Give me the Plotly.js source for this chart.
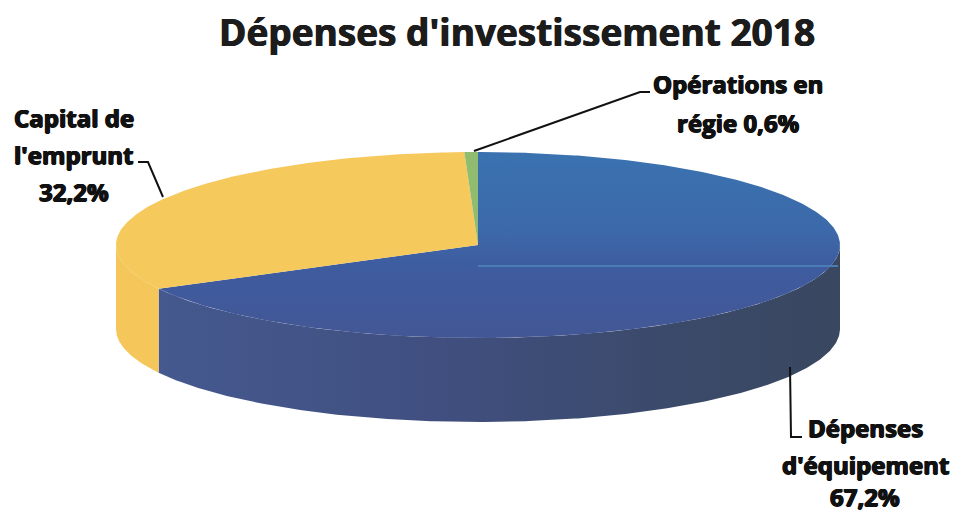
<!DOCTYPE html>
<html><head><meta charset="utf-8">
<script src="https://cdn.plot.ly/plotly-3.0.1.min.js"></script>
<style>html,body{margin:0;padding:0;background:#fff}#c{width:958px;height:512px}</style>
</head><body><div id="c"></div>
<script>
const categories = ["Dépenses d'équipement", "Capital de l'emprunt", "Opérations en régie"];
const values = [67.2, 32.2, 0.6];
const labelLines = [["Dépenses", "d'équipement"], ["Capital de", "l'emprunt"], ["Opérations en", "régie"]];
const titleText = "Dépenses d'investissement 2018";

const geo = {cx: 478, cy: 245, rx: 362, ry: 93, depth: 84};
const step = 0.5;
const total = values.reduce((a, b) => a + b, 0);
const fmt = v => v.toFixed(1).replace('.', ',') + '%';
const ang = [0];
values.forEach(v => ang.push(ang[ang.length - 1] + v / total * 360));
const px = a => geo.cx + geo.rx * Math.sin(a * Math.PI / 180);
const py = (a, d) => geo.cy - geo.ry * Math.cos(a * Math.PI / 180) + (d || 0);
function arc(a0, a1, d) {
  const xs = [], ys = [];
  const n = Math.max(2, Math.ceil(Math.abs(a1 - a0) / step));
  for (let i = 0; i <= n; i++) { const a = a0 + (a1 - a0) * i / n; xs.push(px(a)); ys.push(py(a, d)); }
  return [xs, ys];
}
function wedge(a0, a1) {
  const [x, y] = arc(a0, a1, 0);
  return {x: [geo.cx, ...x, geo.cx], y: [geo.cy, ...y, geo.cy]};
}
function side(a0, a1) {
  const [x1, y1] = arc(a0, a1, 0);
  const [x2, y2] = arc(a1, a0, geo.depth);
  return {x: [...x1, ...x2, x1[0]], y: [...y1, ...y2, y1[0]]};
}
const base = {type: 'scatter', mode: 'lines', fill: 'toself', line: {width: 0}, hoverinfo: 'skip', showlegend: false};
const grad = (type, stops) => ({type, colorscale: stops});
const traces = [
  {...base, ...side(90, ang[1]), name: categories[0] + ' (côté)',
    fillgradient: grad('horizontal', [[0, '#45598F'], [0.4, '#404F80'], [0.75, '#3B4A6A'], [1, '#394760']])},
  {...base, ...side(ang[1], 270), name: categories[1] + ' (côté)', fillcolor: '#F5C75A'},
  {...base, ...wedge(ang[0], ang[1]), name: categories[0],
    fillgradient: grad('vertical', [[0, '#435795'], [0.38, '#3E5CA0'], [0.58, '#3C69A9'], [1, '#3A72B0']])},
  {...base, ...wedge(ang[1], ang[2]), name: categories[1], fillcolor: '#F6C95D'},
  {...base, ...wedge(ang[2], ang[3]), name: categories[2], fillcolor: '#8FBC6E'}
];

const thick = '0.7px 0 0 #111, -0.7px 0 0 #111, 0 0.5px 0 #111, 0 -0.5px 0 #111';
const txtFont = {family: 'Open Sans', size: 24, color: '#111', weight: 700, shadow: thick};
const ann = (x, y, text) => ({x, y, text, xref: 'x', yref: 'y', showarrow: false, xanchor: 'center', yanchor: 'middle', align: 'center', font: txtFont});
const leader = path => ({type: 'path', path, xref: 'x', yref: 'y', line: {color: '#111', width: 2}});
const layout = {
  width: 958, height: 512, margin: {l: 0, r: 0, t: 0, b: 0},
  paper_bgcolor: '#fff', plot_bgcolor: '#fff', showlegend: false,
  xaxis: {range: [0, 958], visible: false, fixedrange: true},
  yaxis: {range: [512, 0], visible: false, fixedrange: true},
  annotations: [
    {x: 517, y: 31, text: titleText, xref: 'x', yref: 'y', showarrow: false, xanchor: 'center', yanchor: 'middle',
      font: {family: 'Open Sans', size: 37, color: '#1c1c1c', weight: 700, shadow: '0.5px 0 0 #1c1c1c, -0.5px 0 0 #1c1c1c'}},
    ann(865, 427, labelLines[0][0]),
    ann(865, 464, labelLines[0][1]),
    ann(865, 496, fmt(values[0])),
    ann(74, 117, labelLines[1][0]),
    ann(74, 154, labelLines[1][1]),
    ann(74, 191, fmt(values[1])),
    ann(738, 83, labelLines[2][0]),
    ann(738, 122, labelLines[2][1] + ' ' + fmt(values[2]))
  ],
  shapes: [
    {type: 'line', x0: 478, x1: 838, y0: 266, y1: 266, xref: 'x', yref: 'y', line: {color: '#4A7DB4', width: 2}},
    leader('M474,151 L640,92 L650,92'),
    leader('M138,162 L148,162 L163,197'),
    leader('M790,367 L791,437 L802,437')
  ]
};
Plotly.newPlot('c', traces, layout, {displayModeBar: false, staticPlot: true});
</script></body></html>
